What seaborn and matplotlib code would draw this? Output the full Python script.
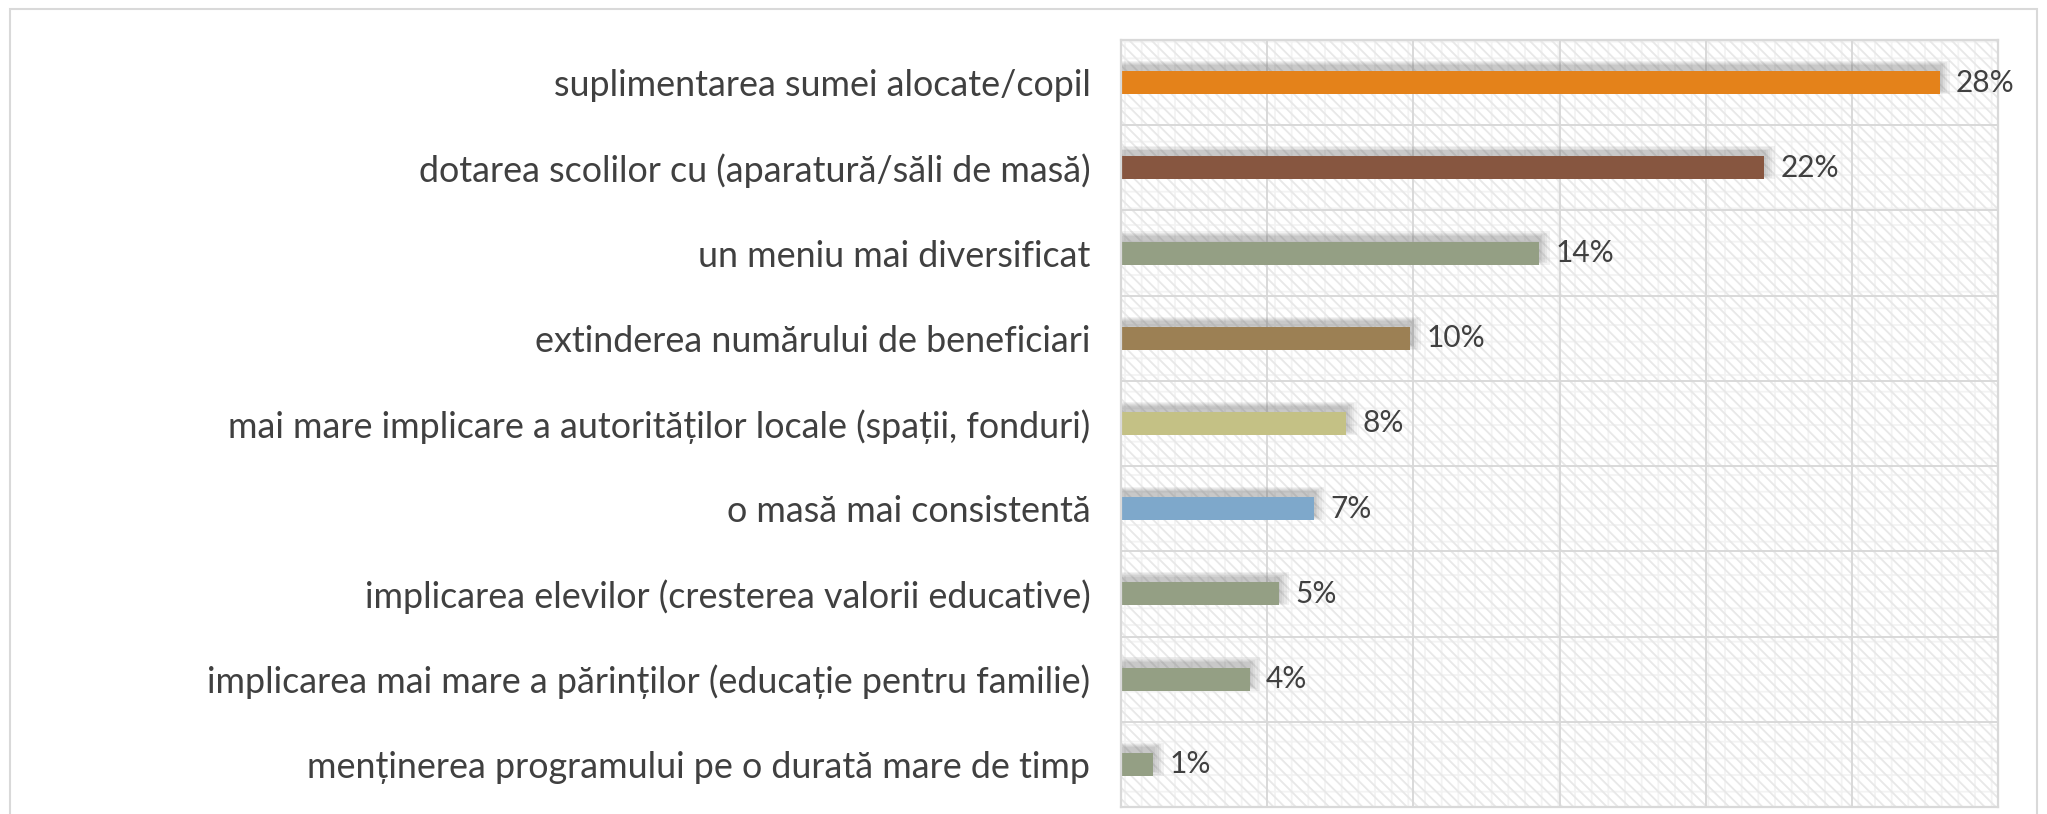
import matplotlib
matplotlib.use("Agg")
import matplotlib.pyplot as plt
from matplotlib.patches import Rectangle
import seaborn as sns
import pandas as pd
import numpy as np

categories = [
    "suplimentarea sumei alocate/copil",
    "dotarea scolilor cu (aparatură/săli de masă)",
    "un meniu mai diversificat",
    "extinderea numărului de beneficiari",
    "mai mare implicare a autorităților locale (spații, fonduri)",
    "o masă mai consistentă",
    "implicarea elevilor (cresterea valorii educative)",
    "implicarea mai mare a părinților (educație pentru familie)",
    "menținerea programului pe o durată mare de timp",
]
values = [28.0, 22.0, 14.3, 9.9, 7.7, 6.6, 5.4, 4.4, 1.1]
labels = ["28%", "22%", "14%", "10%", "8%", "7%", "5%", "4%", "1%"]
colors = ["#E4821A", "#875640", "#949F84", "#9C8054", "#C4C185",
          "#7EA8CB", "#949F84", "#949F84", "#949F84"]
xticks = [0, 5, 10, 15, 20, 25, 30]

sns.set_style("white")
plt.rcParams["font.family"] = ["Lato", "DejaVu Sans"]
plt.rcParams["hatch.linewidth"] = 1.3

df = pd.DataFrame({"cat": categories, "val": values})

fig = plt.figure(figsize=(20.47, 8.14), dpi=100)
ax = fig.add_axes([1121 / 2047, 1 - 807 / 814, (1998 - 1121) / 2047, (807 - 40) / 814])

# hatched background
ax.add_patch(Rectangle((0, 0), 1, 1, transform=ax.transAxes, facecolor="white",
                       edgecolor="#f3f3f3", hatch="+", linewidth=0, zorder=0))
ax.add_patch(Rectangle((0, 0), 1, 1, transform=ax.transAxes, facecolor="none",
                       edgecolor="#e8e8e8", hatch="\\\\\\", linewidth=0, zorder=0.1))

# soft shadows derived from data
ypos = np.arange(len(values))
for k in [0.40, 0.30, 0.21, 0.13, 0.06]:
    ax.barh(ypos - 0.06, np.array(values) + k * 0.9, height=0.27 + k * 0.3, left=0,
            color="#606060", alpha=0.08, zorder=1, linewidth=0)

sns.barplot(data=df, y="cat", x="val", hue="cat", palette=colors, legend=False,
            orient="h", width=0.27, ax=ax, zorder=2, linewidth=0, saturation=1)

for i, (v, lab) in enumerate(zip(values, labels)):
    ax.text(v + 0.55, i, lab, va="center", ha="left", fontsize=21.5, color="#404040", zorder=3)

ax.set_xlim(0, 30)
ax.set_ylim(len(values) - 0.5, -0.5)
ax.set_xticks(xticks)
ax.set_xticklabels([])
ax.set_yticks(ypos)
ax.set_yticklabels(categories, fontsize=25.8, color="#404040")
ax.tick_params(axis="both", which="both", length=0)
ax.tick_params(axis="y", pad=22)
ax.set_xlabel("")
ax.set_ylabel("")
ax.grid(False)
for x in xticks[1:-1]:
    ax.axvline(x, color="#d9d9d9", linewidth=1.4, zorder=0.5)
for y in np.arange(len(values) + 1)[1:-1] - 0.5:
    ax.axhline(y, color="#d9d9d9", linewidth=1.4, zorder=0.5)
for s in ax.spines.values():
    s.set_color("#d9d9d9")
    s.set_linewidth(1.6)
    s.set_visible(True)

fig.patches.append(Rectangle((10 / 2047, -0.01), (2037 - 10) / 2047, 1.01 - 9 / 814,
                             transform=fig.transFigure, fill=False,
                             edgecolor="#d9d9d9", linewidth=1.5))

fig.savefig("out.png", dpi=100, facecolor="white")
